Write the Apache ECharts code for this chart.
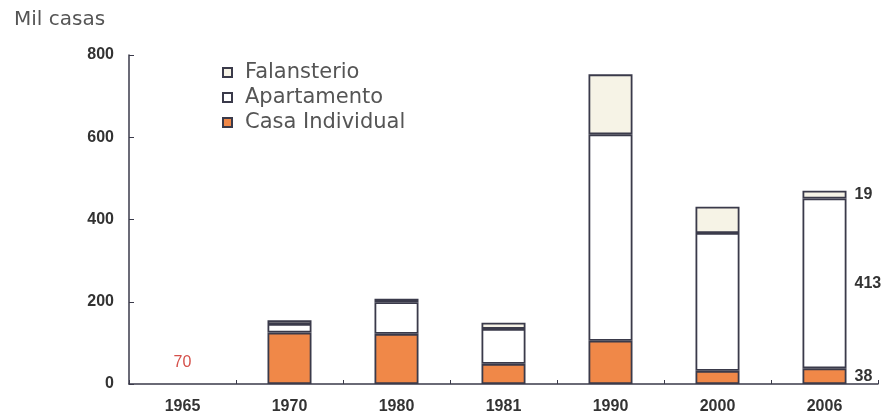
<!DOCTYPE html>
<html>
<head>
<meta charset="utf-8">
<script src="https://cdn.jsdelivr.net/npm/echarts@6/dist/echarts.min.js"></script>
<style>
  html, body { margin: 0; padding: 0; background: #fff; }
  #chart { width: 889px; height: 420px; }
</style>
</head>
<body>
<div id="chart"></div>
<script>
  // datos (mil casas)
  var years = ['1965', '1970', '1980', '1981', '1990', '2000', '2006'];
  var casaIndividual = [null, 125, 122, 49, 105, 32, 38];
  var apartamento = [null, 21, 77, 85, 502, 335, 413];
  var falansterio = [null, 9, 8, 15, 146, 64, 19];
  var label1965 = 70;
  var yTicks = [0, 200, 400, 600, 800];

  var edge = '#3a3a4a';
  var orange = '#f08848';

  var chart = echarts.init(document.getElementById('chart'));

  // solo la ultima barra (2006) lleva etiqueta a la derecha
  function lastLabel(params) {
    return params.dataIndex === years.length - 1 ? String(params.value) : '';
  }
  var labelStyle = {
    show: true,
    position: 'right',
    distance: 8,
    formatter: lastLabel,
    color: '#333',
    fontSize: 16,
    fontWeight: 'bold',
    fontFamily: 'Liberation Sans'
  };

  var option = {
    animation: false,
    title: {
      text: 'Mil casas',
      left: 9,
      top: 5,
      textStyle: { fontSize: 20, fontWeight: 'normal', color: '#555', fontFamily: 'DejaVu Sans' }
    },
    legend: {
      data: ['Falansterio', 'Apartamento', 'Casa Individual'],
      orient: 'vertical',
      left: 217,
      top: 57,
      itemWidth: 9,
      itemHeight: 9,
      itemGap: 4,
      icon: 'rect',
      textStyle: { fontSize: 21, color: '#555', fontFamily: 'DejaVu Sans', padding: [0, 0, 0, 8] }
    },
    grid: { left: 129, right: 11, top: 55, bottom: 36 },
    xAxis: {
      type: 'category',
      data: years,
      axisLine: { lineStyle: { color: edge, width: 1.5 } },
      axisTick: { show: true, inside: true, length: 4, lineStyle: { color: edge } },
      axisLabel: { color: '#333', fontSize: 16, fontWeight: 'bold', fontFamily: 'Liberation Sans', margin: 15 }
    },
    yAxis: {
      type: 'value',
      min: yTicks[0],
      max: yTicks[yTicks.length - 1],
      interval: yTicks[1] - yTicks[0],
      axisLine: { show: true, lineStyle: { color: edge, width: 1.5 } },
      axisTick: { show: true, inside: true, length: 5, lineStyle: { color: edge } },
      splitLine: { show: false },
      axisLabel: { color: '#333', fontSize: 16, fontWeight: 'bold', fontFamily: 'Liberation Sans', margin: 15 }
    },
    series: [
      {
        name: 'Casa Individual',
        type: 'bar',
        stack: 'total',
        barWidth: 44,
        data: casaIndividual,
        itemStyle: { color: orange, borderColor: edge, borderWidth: 1.8 },
        label: labelStyle,
        markPoint: {
          symbol: 'rect',
          symbolSize: 0,
          data: [{ coord: ['1965', 51], value: label1965 }],
          label: { show: true, formatter: String(label1965), color: '#d5504a', fontSize: 16, fontFamily: 'Liberation Sans' }
        }
      },
      {
        name: 'Apartamento',
        type: 'bar',
        stack: 'total',
        data: apartamento,
        itemStyle: { color: '#ffffff', borderColor: edge, borderWidth: 1.8 },
        label: labelStyle
      },
      {
        name: 'Falansterio',
        type: 'bar',
        stack: 'total',
        data: falansterio,
        itemStyle: { color: '#f6f3e6', borderColor: edge, borderWidth: 1.8 },
        label: labelStyle
      }
    ]
  };

  chart.setOption(option);
</script>
</body>
</html>
